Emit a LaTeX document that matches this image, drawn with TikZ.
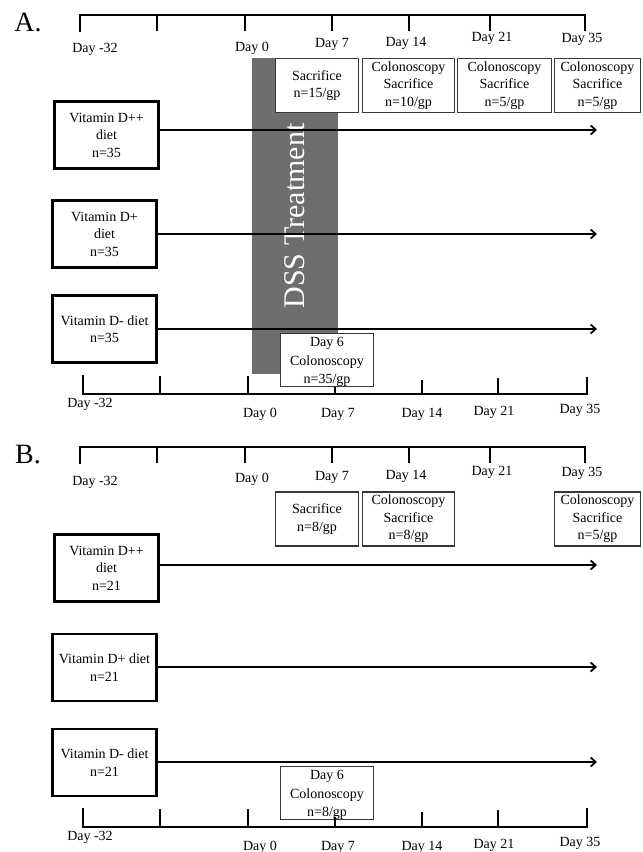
\documentclass[tikz,border=0pt]{standalone}
\usepackage{fontspec}
\setmainfont{Liberation Serif}
\usetikzlibrary{arrows.meta}
\definecolor{dssgray}{RGB}{110,110,110}
\definecolor{evline}{RGB}{55,55,55}
\begin{document}
\begin{tikzpicture}[x=1pt,y=-1pt,
  every node/.style={font=\fontsize{14}{17.5}\selectfont},
  diet/.style={draw, line width=2.6pt, minimum width=104pt, minimum height=67pt, inner sep=0pt, align=center},
  event/.style={draw=evline, line width=1.3pt, fill=white, inner sep=0pt, align=center, minimum height=54pt},
  dsix/.style={draw=evline, line width=1pt, fill=white, inner sep=0pt, align=center, minimum width=93pt, minimum height=47pt, font=\fontsize{14}{18.5}\selectfont},
  tl/.style={line width=1.8pt},
  arr/.style={line width=1.8pt, -{Straight Barb[length=5pt,width=9pt]}},
  lbl/.style={text height=10pt, text depth=3pt, inner sep=0pt},
  panel/.style={font=\fontsize{28}{30}\selectfont, inner sep=0pt, text height=19pt, text depth=0pt}]
\useasboundingbox (0,0) rectangle (643,852);

% ================= Panel A =================
\node[panel] (pA) at (28,22) {A.};
\draw[tl] (80,32) -- (80,15) -- (585,15) -- (585,31);
\foreach \x in {157,245,332,409,490} \draw[tl] (\x,15) -- (\x,31);
\node[lbl] (tA1) at (95,49) {Day -32};
\node[lbl] (tA2) at (252,48) {Day 0};
\node[lbl] (tA3) at (332,44) {Day 7};
\node[lbl] (tA4) at (406,43) {Day 14};
\node[lbl] (tA5) at (492,38) {Day 21};
\node[lbl] (tA6) at (582,39) {Day 35};

\node[fill=dssgray, rotate=90, minimum width=316pt, minimum height=86pt, inner sep=0pt, text=white, font=\fontsize{30}{32}\selectfont] (dss) at (295,216) {DSS Treatment};

\node[diet] (DppA) at (106.5,135) {Vitamin D++\\diet\\n=35};
\node[diet] (DpA) at (104.5,234) {Vitamin D+\\diet\\n=35};
\node[diet] (DmA) at (104.5,329) {Vitamin D- diet\\n=35};

\coordinate (eA1) at (597,130);
\coordinate (eA2) at (597,234);
\coordinate (eA3) at (597,329);
\draw[arr] (DppA.east |- eA1) -- (eA1);
\draw[arr] (DpA.east) -- (eA2);
\draw[arr] (DmA.east) -- (eA3);

\node[event, minimum width=83pt] (SacA) at (317,85.5) {Sacrifice\\n=15/gp};
\node[event, minimum width=92pt] (C14A) at (408.5,85.5) {Colonoscopy\\Sacrifice\\n=10/gp};
\node[event, minimum width=94pt] (C21A) at (504.5,85.5) {Colonoscopy\\Sacrifice\\n=5/gp};
\node[event, minimum width=86pt] (C35A) at (597.5,85.5) {Colonoscopy\\Sacrifice\\n=5/gp};

\draw[tl] (83,375) -- (83,394) -- (587,394) -- (587,377);
\draw[tl] (160,394) -- (160,376);
\draw[tl] (248,394) -- (248,376);
\draw[tl] (335,394) -- (335,378);
\draw[tl] (422,394) -- (422,380);
\draw[tl] (498,394) -- (498,378);
\node[dsix] (D6A) at (327,360) {\rule{0pt}{13.5pt}Day 6\\Colonoscopy\\n=35/gp};
\node[lbl] (bA1) at (90,404) {Day -32};
\node[lbl] (bA2) at (260,414) {Day 0};
\node[lbl] (bA3) at (338,414) {Day 7};
\node[lbl] (bA4) at (422,414) {Day 14};
\node[lbl] (bA5) at (494,412) {Day 21};
\node[lbl] (bA6) at (580,410) {Day 35};

% ================= Panel B =================
\node[panel] (pB) at (28,454) {B.};
\draw[tl] (80,464) -- (80,447) -- (585,447) -- (585,463);
\foreach \x in {157,245,332,409,490} \draw[tl] (\x,447) -- (\x,463);
\node[lbl] (tB1) at (95,482) {Day -32};
\node[lbl] (tB2) at (252,479) {Day 0};
\node[lbl] (tB3) at (332,477) {Day 7};
\node[lbl] (tB4) at (406,476) {Day 14};
\node[lbl] (tB5) at (492,472) {Day 21};
\node[lbl] (tB6) at (582,473) {Day 35};

\node[diet] (DppB) at (106.5,568) {Vitamin D++\\diet\\n=21};
\node[diet] (DpB) at (104.5,667.5) {Vitamin D+ diet\\n=21};
\node[diet] (DmB) at (104.5,762.5) {Vitamin D- diet\\n=21};

\coordinate (eB1) at (597,565);
\coordinate (eB2) at (597,667);
\coordinate (eB3) at (597,762);
\draw[arr] (DppB.east |- eB1) -- (eB1);
\draw[arr] (DpB.east |- eB2) -- (eB2);
\draw[arr] (DmB.east |- eB3) -- (eB3);

\node[event, minimum width=83pt] (SacB) at (317,519) {Sacrifice\\n=8/gp};
\node[event, minimum width=92pt] (C14B) at (408.5,519) {Colonoscopy\\Sacrifice\\n=8/gp};
\node[event, minimum width=86pt] (C35B) at (597.5,519) {Colonoscopy\\Sacrifice\\n=5/gp};

\draw[tl] (83,808) -- (83,827) -- (587,827) -- (587,808);
\draw[tl] (160,827) -- (160,809);
\draw[tl] (248,827) -- (248,809);
\draw[tl] (422,827) -- (422,812);
\draw[tl] (498,827) -- (498,810);
\node[dsix] (D6B) at (327,793) {\rule{0pt}{13.5pt}Day 6\\Colonoscopy\\n=8/gp};
\draw[tl] (335,827) -- (335,817);
\node[lbl] (bB1) at (90,837) {Day -32};
\node[lbl] (bB2) at (260,847) {Day 0};
\node[lbl] (bB3) at (338,847) {Day 7};
\node[lbl] (bB4) at (422,847) {Day 14};
\node[lbl] (bB5) at (494,845) {Day 21};
\node[lbl] (bB6) at (580,843) {Day 35};
\end{tikzpicture}
\end{document}
